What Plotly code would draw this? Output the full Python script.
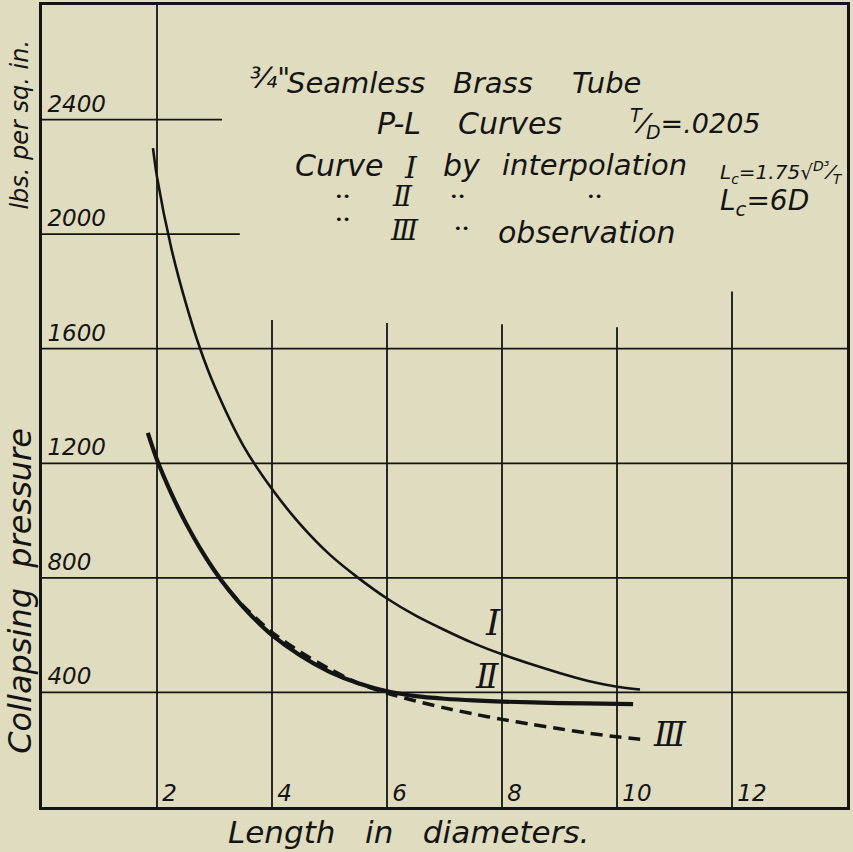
import plotly.graph_objects as go

# ---- data ----
curve1_x = [1.93, 2.0, 2.25, 2.5, 2.75, 3.0, 3.5, 4.0, 4.5, 5.0, 5.5, 6.0, 6.5, 7.0, 7.5, 8.0, 8.5, 9.0, 9.5, 10.0, 10.4]
curve1_y = [2300, 2200, 1950, 1760, 1600, 1470, 1262, 1110, 985, 882, 800, 728, 668, 618, 572, 533, 499, 468, 440, 420, 410]

curve2_x = [1.84, 2.0, 2.25, 2.5, 2.75, 3.0, 3.25, 3.5, 3.75, 4.0, 4.5, 5.0, 5.5, 6.0, 6.5, 7.0, 7.5, 8.0, 9.0, 10.0, 10.28]
curve2_y = [1306, 1212, 1094, 992, 903, 825, 757, 698, 646, 600, 528, 472, 432, 404, 387, 378, 372, 368, 363, 360, 359]

curve3_x = [3.25, 3.5, 4.0, 4.5, 5.0, 5.5, 6.0, 6.5, 7.0, 7.5, 8.0, 8.5, 9.0, 9.5, 10.0, 10.52]
curve3_y = [757, 702, 610, 540, 482, 432, 398, 370, 346, 325, 306, 289, 273, 258, 245, 234]

x_ticks = [2, 4, 6, 8, 10, 12]
y_ticks = [400, 800, 1200, 1600, 2000, 2400]

# grid extents (partial rulings as drawn)
hline_y = [400, 800, 1200, 1600, 2000, 2400]
hline_xend = [14, 14, 14, 14, 3.44, 3.13]
vline_x = [2, 4, 6, 8, 10, 12]
vline_ytop = [2800, 1700, 1690, 1685, 1675, 1800]

BG = "#e0dcbf"
INK = "#141414"
FONT = "DejaVu Sans, sans-serif"
SERIF = "DejaVu Serif, serif"

fig = go.Figure()

fig.add_trace(go.Scatter(x=curve3_x, y=curve3_y, mode="lines",
                         line=dict(color=INK, width=3.5, dash="12px,7px", shape="spline", smoothing=0.8),
                         showlegend=False, hoverinfo="skip"))
fig.add_trace(go.Scatter(x=curve1_x, y=curve1_y, mode="lines",
                         line=dict(color=INK, width=2.6, shape="spline", smoothing=0.8),
                         showlegend=False, hoverinfo="skip"))
fig.add_trace(go.Scatter(x=curve2_x, y=curve2_y, mode="lines",
                         line=dict(color=INK, width=4.2, shape="spline", smoothing=0.8),
                         showlegend=False, hoverinfo="skip"))

shapes = []
for yv, xe in zip(hline_y, hline_xend):
    shapes.append(dict(type="line", xref="x", yref="y", x0=0, x1=xe, y0=yv, y1=yv,
                       line=dict(color=INK, width=1.8), layer="below"))
for xv, yt in zip(vline_x, vline_ytop):
    shapes.append(dict(type="line", xref="x", yref="y", x0=xv, x1=xv, y0=0, y1=yt,
                       line=dict(color=INK, width=1.8), layer="below"))

tick_font = dict(family=FONT, size=23, color=INK, style="italic")

ann = []
def px(xp):
    return (xp - 42) / 805.0
def py(yp):
    return (807 - yp) / 805.0

def note(text, x, y, size=29, xanchor="left", family=FONT, angle=0):
    ann.append(dict(text=text, x=px(x), y=py(y), xref="paper", yref="paper", showarrow=False,
                    xanchor=xanchor, yanchor="middle", textangle=angle,
                    font=dict(family=family, size=size, color=INK, style="italic")))

# title block
note("¾\"", 248, 76, size=28)
note("Seamless", 285, 80)
note("Brass", 451, 80)
note("Tube", 570, 80)
note("P-L", 375, 121, size=30)
note("Curves", 456, 121, size=30)
note("<sup>T</sup>⁄<sub>D</sub>=.0205", 628, 121, size=27)
note("Curve", 293, 163, size=30)
note("I", 402, 165, size=30, family=SERIF)
note("by", 441, 163, size=30)
note("interpolation", 500, 163)
note("L<sub>c</sub>=1.75√<sup>D³</sup>⁄<sub>T</sub>", 718, 170, size=20)
note("••", 333, 194, size=13)
note("Ⅱ", 390, 194, size=28, family=SERIF)
note("••", 448, 194, size=13)
note("••", 585, 194, size=13)
note("L<sub>c</sub>=6D", 718, 200, size=28)
note("••", 333, 217, size=13)
note("Ⅲ", 388, 228, size=28, family=SERIF)
note("••", 452, 226, size=13)
note("observation", 496, 230, size=30)

# curve labels
note("Ⅰ", 493, 622, size=36, xanchor="center", family=SERIF)
note("Ⅱ", 487, 676, size=33, xanchor="center", family=SERIF)
note("Ⅲ", 670, 734, size=33, xanchor="center", family=SERIF)

# axis titles
note("Length\u00a0\u00a0 in\u00a0\u00a0 diameters.", 408, 832, size=31, xanchor="center")
note("Collapsing\u00a0\u00a0pressure", 20, 590, size=32, xanchor="center", angle=-90)
note("lbs.\u00a0per\u00a0sq.\u00a0in.", 20, 122, size=24, xanchor="center", angle=-90)

fig.update_layout(
    width=853, height=852,
    margin=dict(l=42, r=6, t=2, b=45),
    paper_bgcolor=BG, plot_bgcolor=BG,
    shapes=shapes, annotations=ann,
    showlegend=False,
    xaxis=dict(range=[0, 14], showgrid=False, zeroline=False,
               showline=True, mirror=True, linecolor=INK, linewidth=2.5,
               tickvals=x_ticks, ticktext=[str(v) for v in x_ticks],
               ticks="", ticklabelposition="inside right", ticklabelshift=4,
               tickfont=tick_font),
    yaxis=dict(range=[0, 2800], showgrid=False, zeroline=False,
               showline=True, mirror=True, linecolor=INK, linewidth=2.5,
               tickvals=y_ticks, ticktext=[str(v) for v in y_ticks],
               ticks="", ticklabelposition="inside top", ticklabelstandoff=6,
               tickfont=tick_font),
)

fig.write_html("out.html", config={"displayModeBar": False},
               post_script="document.body.style.margin='0px';")
